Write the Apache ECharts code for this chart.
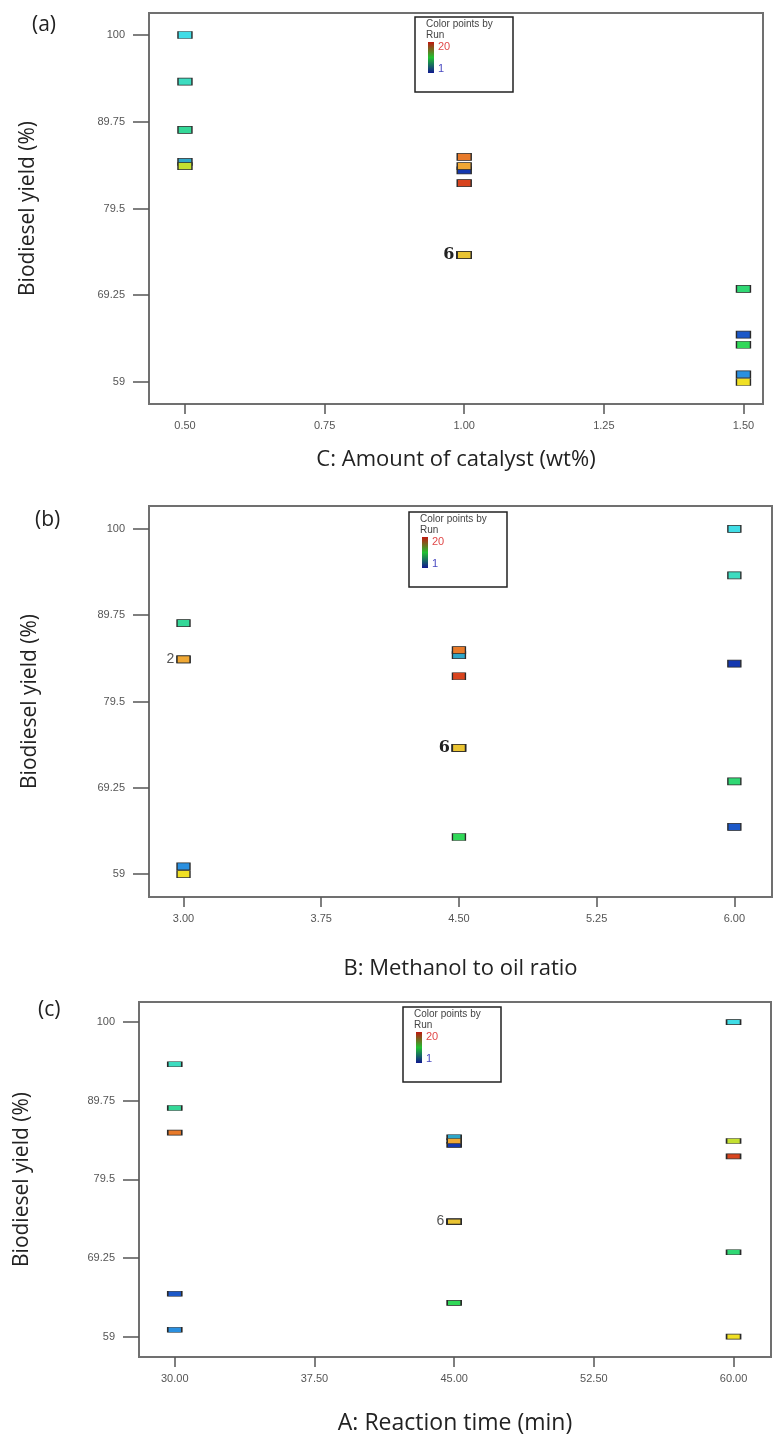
<!DOCTYPE html>
<html>
<head>
<meta charset="utf-8">
<script src="https://cdn.jsdelivr.net/npm/echarts@6/dist/echarts.min.js"></script>
<style>
  html, body { margin: 0; padding: 0; background: #fff; }
  #chart { width: 773px; height: 1436px; }
</style>
</head>
<body>
<div id="chart"></div>
<script>
// ---- data (one entry per experimental run) ----
const runs           = [2,    3,    5,    6,    7,    8,    9,    10,   11,   13,   14,   16,   17,   19,   1,    4,    12,   18,   20,   15];
const reactionTime   = [30,   45,   30,   45,   60,   30,   30,   60,   45,   60,   60,   45,   30,   60,   45,   45,   45,   45,   45,   45];
const methanolRatio  = [6,    6,    3,    4.5,  6,    6,    3,    6,    4.5,  3,    3,    3,    4.5,  4.5,  4.5,  4.5,  4.5,  4.5,  4.5,  4.5];
const catalystAmount = [1.5,  1.0,  1.5,  0.5,  0.5,  0.5,  0.5,  1.5,  1.5,  0.5,  1.5,  1.0,  1.0,  1.0,  1.0,  1.0,  1.0,  1.0,  1.0,  1.0];
const biodieselYield = [64.6, 84.0, 59.9, 85.0, 100,  94.5, 88.8, 70.0, 63.4, 84.5, 59.0, 84.5, 85.6, 82.5, 74.0, 74.0, 74.0, 74.0, 74.0, 74.0];

const yTicks        = [59, 69.25, 79.5, 89.75, 100];
const catalystTicks = [0.5, 0.75, 1.0, 1.25, 1.5];
const ratioTicks    = [3, 3.75, 4.5, 5.25, 6];
const timeTicks     = [30, 37.5, 45, 52.5, 60];

const runPalette = ['#0b1a8c','#1c58c8','#1438b0','#2070d4','#2a90e0','#2fa6c8','#40dde6','#3ddcc0','#34d898','#30d874',
                    '#30d858','#70dc40','#c4e030','#f0e024','#eac432','#f0a834','#e87a2a','#e06024','#d8441e','#c02a14'];

function buildData(xs, labelStyleFor) {
  return xs.map((x, i) => {
    const y = biodieselYield[i];
    let count = 0, last = -1;
    xs.forEach((x2, j) => { if (x2 === x && biodieselYield[j] === y) { count++; last = j; } });
    const item = { value: [x, y, count, runs[i]] };
    if (count > 1 && last === i) item.label = Object.assign({ show: true }, labelStyleFor(count));
    return item;
  });
}

const boldSerif = { fontFamily: '"DejaVu Serif", serif', fontWeight: 'bold', fontSize: 16, color: '#222' };
const graySans  = { fontFamily: '"Liberation Sans", Arial, sans-serif', fontWeight: 'normal', fontSize: 14, color: '#555' };

const panels = [
  { top: 13,   height: 391, left: 149, width: 614, xmin: 0.4356, xmax: 1.535, ymin: 56.4,  ymax: 102.6,
    xs: catalystAmount, xTicks: catalystTicks, xName: 'C: Amount of catalyst (wt%)', xNameSize: 22, xGap: 45,
    yGap: 110, sym: [14, 7], label: c => (c >= 6 ? boldSerif : graySans), tag: '(a)', tagX: 32, tagY: 25, lx: 415, ly: 17 },
  { top: 506,  height: 391, left: 149, width: 623, xmin: 2.812, xmax: 6.205, ymin: 56.27, ymax: 102.73,
    xs: methanolRatio, xTicks: ratioTicks, xName: 'B: Methanol to oil ratio', xNameSize: 22, xGap: 61,
    yGap: 108, sym: [13, 7], label: c => (c >= 6 ? boldSerif : graySans), tag: '(b)', tagX: 35, tagY: 520, lx: 409, ly: 512 },
  { top: 1002, height: 356, left: 139, width: 632, xmin: 28.08, xmax: 62.01, ymin: 56.35, ymax: 102.62,
    xs: reactionTime, xTicks: timeTicks, xName: 'A: Reaction time (min)', xNameSize: 23, xGap: 55,
    yGap: 106, sym: [14, 5], label: c => graySans, tag: '(c)', tagX: 38, tagY: 1010, lx: 403, ly: 1007 }
];

const tickFont = { fontFamily: '"Liberation Sans", Arial, sans-serif', fontSize: 11, color: '#555' };
const titleFont = '"Open Sans", "Noto Sans", sans-serif';

const option = {
  backgroundColor: '#fff',
  animation: false,
  grid: panels.map(p => ({ left: p.left, top: p.top, width: p.width, height: p.height,
                           show: true, borderColor: '#707070', borderWidth: 2, backgroundColor: 'transparent' })),
  xAxis: panels.map((p, i) => ({
    type: 'value', gridIndex: i, min: p.xmin, max: p.xmax,
    name: p.xName, nameLocation: 'middle', nameGap: p.xGap,
    nameTextStyle: { fontFamily: titleFont, fontSize: p.xNameSize, color: '#222' },
    splitLine: { show: false },
    axisLine: { show: true, lineStyle: { color: '#707070', width: 2 } },
    axisTick: { show: true, length: 10, customValues: p.xTicks, lineStyle: { color: '#555', width: 1.5 } },
    axisLabel: Object.assign({ customValues: p.xTicks, margin: 16, formatter: v => Number(v).toFixed(2) }, tickFont)
  })),
  yAxis: panels.map((p, i) => ({
    type: 'value', gridIndex: i, min: p.ymin, max: p.ymax,
    name: 'Biodiesel yield (%)', nameLocation: 'middle', nameGap: p.yGap, nameRotate: 90,
    nameTextStyle: { fontFamily: titleFont, fontSize: 21, color: '#222' },
    splitLine: { show: false },
    axisLine: { show: true, lineStyle: { color: '#707070', width: 2 } },
    axisTick: { show: true, length: 16, customValues: yTicks, lineStyle: { color: '#555', width: 1.5 } },
    axisLabel: Object.assign({ customValues: yTicks, margin: 24, formatter: v => String(v) }, tickFont)
  })),
  visualMap: {
    type: 'continuous', show: false, min: 1, max: 20, dimension: 3,
    seriesIndex: [0, 1, 2], inRange: { color: runPalette }
  },
  series: panels.map((p, i) => ({
    type: 'scatter', xAxisIndex: i, yAxisIndex: i,
    symbol: 'rect', symbolSize: p.sym,
    itemStyle: { borderColor: '#2a2a2a', borderWidth: 1, opacity: 1 },
    label: { show: false, position: 'left', distance: 2, formatter: d => String(d.value[2]) },
    emphasis: { disabled: true },
    data: buildData(p.xs, p.label)
  })),
  graphic: []
};

const gradient = new echarts.graphic.LinearGradient(0, 0, 0, 1, [
  { offset: 0, color: '#c01810' }, { offset: 0.5, color: '#20c030' }, { offset: 1, color: '#101890' }
]);

panels.forEach(p => {
  option.graphic.push(
    { type: 'text', left: p.tagX, top: p.tagY - 10,
      style: { text: p.tag, font: '21px "Open Sans", sans-serif', fill: '#222' } },
    { type: 'rect', shape: { x: p.lx, y: p.ly, width: 98, height: 75 },
      style: { fill: '#fff', stroke: '#222', lineWidth: 1.5 }, z: 10 },
    { type: 'text', x: p.lx + 11, y: p.ly + 2, z: 11,
      style: { text: 'Color points by\nRun', font: '10px "Liberation Sans", Arial, sans-serif', fill: '#444', lineHeight: 11 } },
    { type: 'rect', shape: { x: p.lx + 13, y: p.ly + 25, width: 6, height: 31 }, z: 11,
      style: { fill: gradient } },
    { type: 'text', x: p.lx + 23, y: p.ly + 30, z: 11,
      style: { text: '20', font: '11px "Liberation Sans", Arial, sans-serif', fill: '#e04848', verticalAlign: 'middle' } },
    { type: 'text', x: p.lx + 23, y: p.ly + 52, z: 11,
      style: { text: '1', font: '11px "Liberation Sans", Arial, sans-serif', fill: '#4848c0', verticalAlign: 'middle' } }
  );
});

const chart = echarts.init(document.getElementById('chart'), null, { renderer: 'canvas', width: 773, height: 1436 });
chart.setOption(option);
</script>
</body>
</html>
